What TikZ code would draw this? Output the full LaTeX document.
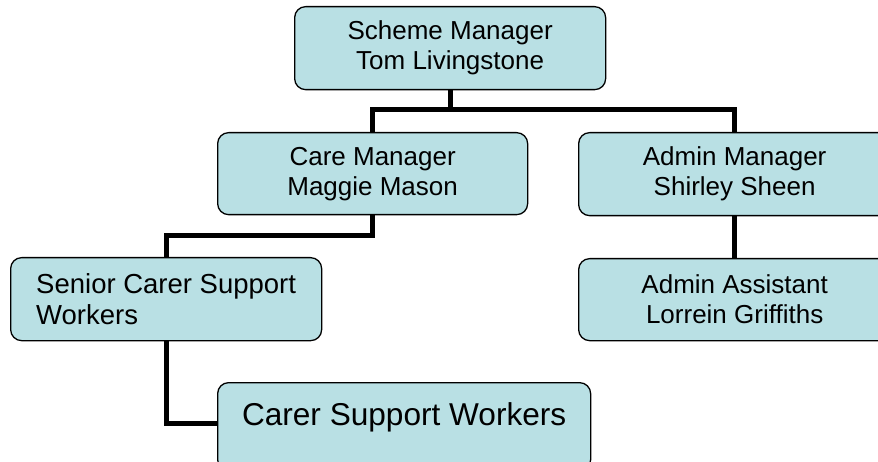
\documentclass[tikz,border=0pt]{standalone}
\usepackage{fontspec}
\setmainfont{Liberation Sans}
\definecolor{boxfill}{RGB}{185,224,228}
\begin{document}
\begin{tikzpicture}[x=1pt,y=-1pt,
  orgbox/.style={draw=black, line width=1.3pt, fill=boxfill, rounded corners=11pt,
    inner sep=0pt, anchor=north west, align=center,
    font=\fontsize{26}{30}\selectfont},
  conn/.style={draw=black, line width=5pt}]
\useasboundingbox (0,0) rectangle (878,462);
\clip (0,0) rectangle (878,462);
\fill[white] (0,0) rectangle (878,462);
\node[orgbox, minimum width=311pt, minimum height=83pt] (top) at (294,6) {Scheme Manager\\Tom Livingstone};
\node[orgbox, minimum width=310pt, minimum height=82pt] (care) at (217,132) {Care Manager\\Maggie Mason};
\node[orgbox, minimum width=312pt, minimum height=83pt] (admin) at (578,132) {Admin Manager\\Shirley Sheen};
\node[orgbox, minimum width=311pt, minimum height=83pt, align=left, font=\fontsize{27.5}{31}\selectfont] (senior) at (10,257) {Senior Carer Support\\Workers};
\node[orgbox, minimum width=312pt, minimum height=82pt] (assist) at (578,258) {Admin Assistant\\Lorrein Griffiths};
\node[orgbox, minimum width=373pt, text height=43pt, text depth=45pt, font=\fontsize{31.6}{36}\selectfont] (carer) at (217,382) {Carer Support Workers};
\coordinate (busA) at (0,110);
\coordinate (busB) at (0,236);
\coordinate (busC) at (0,423);
\draw[conn] (top.south) -- (top.south |- busA);
\draw[conn] (care.north) -- (care.north |- busA) -- (admin.north |- busA) -- (admin.north);
\draw[conn] (care.south) -- (care.south |- busB) -| (senior.north);
\draw[conn] (senior.south) |- (carer.west |- busC);
\draw[conn] (admin.south) -- (assist.north);
\end{tikzpicture}
\end{document}
